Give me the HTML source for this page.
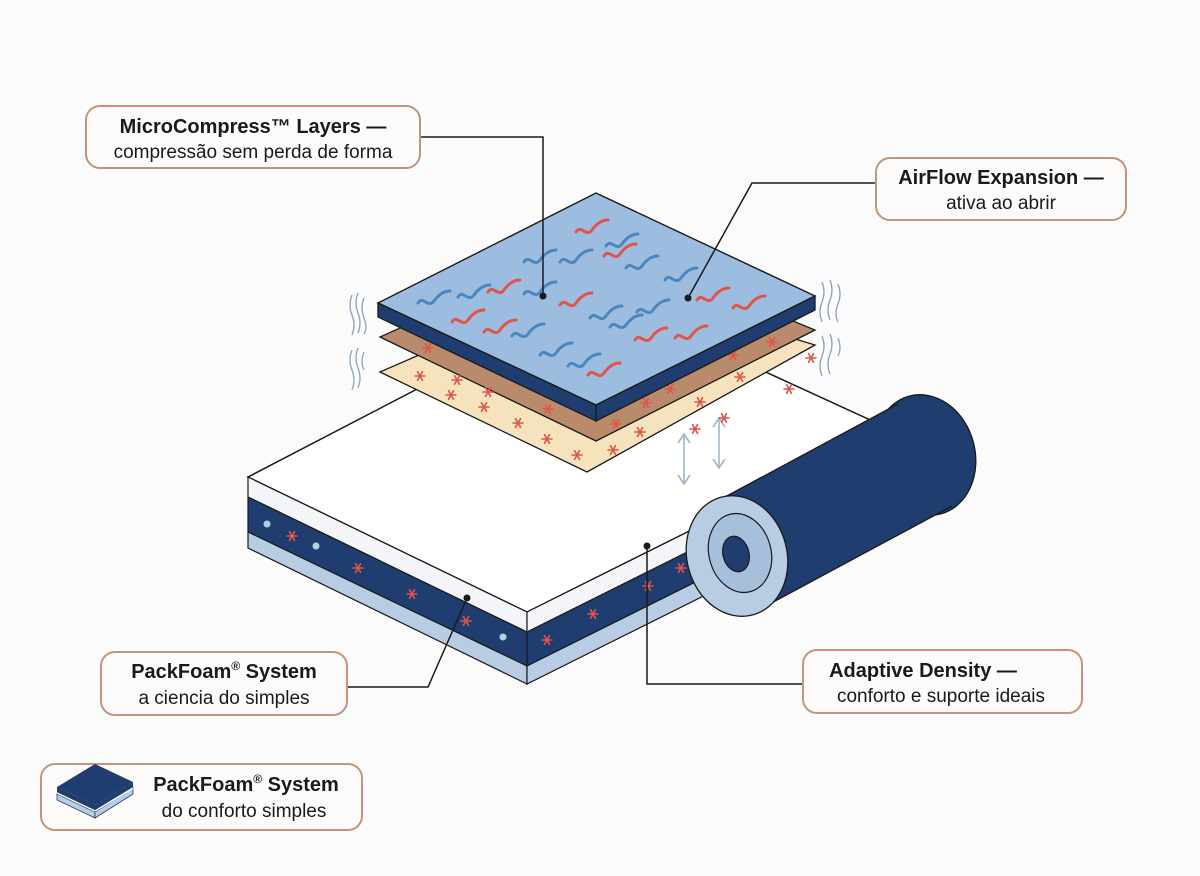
<!DOCTYPE html>
<html><head><meta charset="utf-8"><style>
body{margin:0;background:#fbfbfb;}
svg{display:block;}
.t{font-family:"Liberation Sans",sans-serif;fill:#1a1a1a;}
</style></head><body>
<svg width="1200" height="876" viewBox="0 0 1200 876" xmlns="http://www.w3.org/2000/svg">
<defs>
<g id="ast" stroke="#e0554a" stroke-width="1.6" stroke-linecap="round">
<line x1="-5" y1="0" x2="5" y2="0"/><line x1="-2.5" y1="-4.3" x2="2.5" y2="4.3"/><line x1="-2.5" y1="4.3" x2="2.5" y2="-4.3"/>
</g>
<path id="wb" d="M0,0 c5,-8 10,6 16,-2 c5,-7 10,-10 16,-10" fill="none" stroke="#4a86c0" stroke-width="3" stroke-linecap="round"/>
<path id="wr" d="M0,0 c5,-8 10,6 16,-2 c5,-7 10,-10 16,-10" fill="none" stroke="#e0554a" stroke-width="3" stroke-linecap="round"/>
</defs>
<rect width="1200" height="876" fill="#fbfbfb"/>

<!-- mattress -->
<polygon points="248,477 598,295 892,430 527,612" fill="#ffffff" stroke="#1a1a1a" stroke-width="1.5"/>
<polygon points="248,477 527,612 527,632 248,497" fill="#f3f5f8" stroke="#1a1a1a" stroke-width="1.2"/>
<polygon points="248,497 527,632 527,666 248,532" fill="#1f3d6e" stroke="#1a1a1a" stroke-width="1.2"/>
<polygon points="248,532 527,666 527,684 248,548" fill="#b8cde3" stroke="#1a1a1a" stroke-width="1.2"/>
<polygon points="527,612 892,430 892,450 527,632" fill="#f3f5f8" stroke="#1a1a1a" stroke-width="1.2"/>
<polygon points="527,632 892,450 892,484 527,666" fill="#1f3d6e" stroke="#1a1a1a" stroke-width="1.2"/>
<polygon points="527,666 892,484 892,502 527,684" fill="#b8cde3" stroke="#1a1a1a" stroke-width="1.2"/>
<circle cx="267" cy="524" r="3.5" fill="#b8cde3"/><circle cx="316" cy="546" r="3.5" fill="#b8cde3"/><circle cx="503" cy="637" r="3.5" fill="#b8cde3"/>
<use href="#ast" x="292" y="536"/><use href="#ast" x="358" y="568"/><use href="#ast" x="412" y="594"/><use href="#ast" x="466" y="621"/>
<use href="#ast" x="547" y="640"/><use href="#ast" x="593" y="614"/><use href="#ast" x="648" y="586"/><use href="#ast" x="681" y="568"/>

<!-- arrows -->
<g stroke="#9fb6cc" stroke-width="1.6" fill="none">
<line x1="684" y1="436" x2="684" y2="482"/><polyline points="678,443 684,434 690,443"/><polyline points="678,475 684,484 690,475"/>
<line x1="719" y1="420" x2="719" y2="466"/><polyline points="713,427 719,418 725,427"/><polyline points="713,459 719,468 725,459"/>
</g>

<!-- layers -->
<polygon points="380,372 596,278 815,345 587,472" fill="#f6e3bd" stroke="#1a1a1a" stroke-width="1.3"/>
<polygon points="380,337 596,240 815,330 596,441" fill="#b98b6c" stroke="#1a1a1a" stroke-width="1.3"/>
<g>
<use href="#ast" x="428" y="348"/><use href="#ast" x="457" y="380"/><use href="#ast" x="488" y="392"/><use href="#ast" x="518" y="423"/><use href="#ast" x="547" y="439"/><use href="#ast" x="577" y="455"/>
<use href="#ast" x="420" y="376"/><use href="#ast" x="451" y="395"/><use href="#ast" x="484" y="407"/><use href="#ast" x="548" y="409"/><use href="#ast" x="616" y="424"/>
<use href="#ast" x="613" y="450"/><use href="#ast" x="640" y="432"/><use href="#ast" x="646" y="403"/><use href="#ast" x="670" y="389"/><use href="#ast" x="700" y="402"/>
<use href="#ast" x="733" y="355"/><use href="#ast" x="740" y="377"/><use href="#ast" x="772" y="342"/><use href="#ast" x="789" y="389"/><use href="#ast" x="811" y="358"/><use href="#ast" x="724" y="418"/><use href="#ast" x="695" y="429"/>
</g>
<polygon points="378,303 596,193 815,296 596,405" fill="#9cbde0" stroke="#1a1a1a" stroke-width="1.4"/>
<polygon points="378,303 596,405 596,421 378,317" fill="#1f3d6e" stroke="#1a1a1a" stroke-width="1.3"/>
<polygon points="596,405 815,296 815,310 596,421" fill="#1f3d6e" stroke="#1a1a1a" stroke-width="1.3"/>
<g>
<use href="#wb" x="418" y="303"/><use href="#wb" x="458" y="297"/><use href="#wr" x="488" y="292"/><use href="#wb" x="524" y="294"/>
<use href="#wr" x="452" y="322"/><use href="#wr" x="484" y="332"/><use href="#wb" x="512" y="336"/><use href="#wr" x="560" y="305"/>
<use href="#wb" x="524" y="262"/><use href="#wb" x="560" y="262"/><use href="#wr" x="576" y="232"/><use href="#wb" x="606" y="246"/><use href="#wr" x="604" y="256"/>
<use href="#wb" x="626" y="268"/><use href="#wb" x="590" y="318"/><use href="#wb" x="610" y="327"/><use href="#wb" x="540" y="355"/><use href="#wb" x="568" y="366"/>
<use href="#wr" x="588" y="375"/><use href="#wr" x="635" y="340"/><use href="#wr" x="675" y="338"/><use href="#wb" x="665" y="280"/>
<use href="#wr" x="697" y="300"/><use href="#wr" x="733" y="308"/><use href="#wb" x="637" y="312"/>
</g>
<!-- vibration lines -->
<g stroke="#8da4bc" stroke-width="1.3" fill="none">
<path d="M352,295 q-4,10 0,20 q4,10 0,20"/><path d="M358,293 q-4,10 0,20 q4,10 0,20"/><path d="M364,298 q-4,10 0,20 q4,10 0,16"/>
<path d="M352,350 q-4,10 0,20 q4,10 0,20"/><path d="M358,348 q-4,10 0,20 q4,10 0,20"/><path d="M364,352 q-4,10 0,18"/>
<path d="M822,282 q4,10 0,20 q-4,10 0,20"/><path d="M830,280 q4,10 0,20 q-4,10 0,20"/><path d="M838,284 q4,10 0,20 q-4,10 0,18"/>
<path d="M822,336 q4,10 0,20 q-4,10 0,20"/><path d="M830,334 q4,10 0,20 q-4,10 0,20"/><path d="M838,338 q4,10 0,18"/>
</g>

<!-- roll -->
<ellipse cx="925" cy="455" rx="50" ry="61" transform="rotate(-15 925 455)" fill="#1f3d6e" stroke="#1a1a1a" stroke-width="1.3"/>
<polygon points="710,505 898,404 952,506 764,607" fill="#1f3d6e"/>
<line x1="710" y1="505" x2="898" y2="404" stroke="#1a1a1a" stroke-width="1.3"/>
<line x1="764" y1="607" x2="952" y2="506" stroke="#1a1a1a" stroke-width="1.3"/>
<ellipse cx="737" cy="556" rx="50" ry="61" transform="rotate(-15 737 556)" fill="#b8cde3" stroke="#1a1a1a" stroke-width="1.3"/>
<ellipse cx="740" cy="553" rx="31" ry="40" transform="rotate(-15 740 553)" fill="#a6bfdb" stroke="#1a1a1a" stroke-width="1.2"/>
<ellipse cx="736" cy="554" rx="13" ry="18" transform="rotate(-15 736 554)" fill="#1f3d6e" stroke="#1a1a1a" stroke-width="1.2"/>

<!-- leaders -->
<g stroke="#1a1a1a" stroke-width="1.5" fill="none">
<polyline points="420,137 543,137 543,296"/>
<polyline points="876,183 752,183 688,298"/>
<polyline points="347,687 428,687 467,598"/>
<polyline points="803,684 647,684 647,546"/>
</g>
<g fill="#1a1a1a"><circle cx="543" cy="296" r="3.5"/><circle cx="688" cy="298" r="3.5"/><circle cx="467" cy="598" r="3.5"/><circle cx="647" cy="546" r="3.5"/></g>

<!-- label boxes -->
<g fill="#fdfcfb" stroke="#c49478" stroke-width="2">
<rect x="86" y="106" width="334" height="62" rx="14"/>
<rect x="876" y="158" width="250" height="62" rx="14"/>
<rect x="101" y="652" width="246" height="63" rx="14"/>
<rect x="803" y="650" width="279" height="63" rx="14"/>
<rect x="41" y="764" width="321" height="66" rx="14"/>
</g>
<g class="t" text-anchor="middle">
<text x="253" y="133" font-size="20" font-weight="bold">MicroCompress™ Layers —</text>
<text x="253" y="158" font-size="19">compressão sem perda de forma</text>
<text x="1001" y="184" font-size="20" font-weight="bold">AirFlow Expansion —</text>
<text x="1001" y="209" font-size="19">ativa ao abrir</text>
<text x="224" y="678" font-size="20" font-weight="bold">PackFoam<tspan font-size="12" dy="-8">®</tspan><tspan dy="8"> System</tspan></text>
<text x="224" y="704" font-size="19">a ciencia do simples</text>
<text x="923" y="677" font-size="20" font-weight="bold">Adaptive Density —</text>
<text x="941" y="702" font-size="19">conforto e suporte ideais</text>
<text x="246" y="791" font-size="20" font-weight="bold">PackFoam<tspan font-size="12" dy="-8">®</tspan><tspan dy="8"> System</tspan></text>
<text x="244" y="817" font-size="19">do conforto simples</text>
</g>
<!-- legend icon -->
<polygon points="57,794 95,770 133,788 95,812" fill="#b8cde3" stroke="#1f3d6e"/>
<polygon points="57,794 95,812 95,818 57,800" fill="#b8cde3" stroke="#1f3d6e" stroke-width="0.8"/>
<polygon points="95,812 133,788 133,794 95,818" fill="#b8cde3" stroke="#1f3d6e" stroke-width="0.8"/>
<polygon points="57,787 95,764 133,782 95,805" fill="#1f3d6e"/>
<polygon points="57,787 95,805 95,811 57,793" fill="#1f3d6e"/>
<polygon points="95,805 133,782 133,788 95,811" fill="#1f3d6e"/>
<line x1="57" y1="793" x2="95" y2="811" stroke="#fff" stroke-width="1.5"/><line x1="95" y1="811" x2="133" y2="788" stroke="#fff" stroke-width="1.5"/>
</svg>
</body></html>
